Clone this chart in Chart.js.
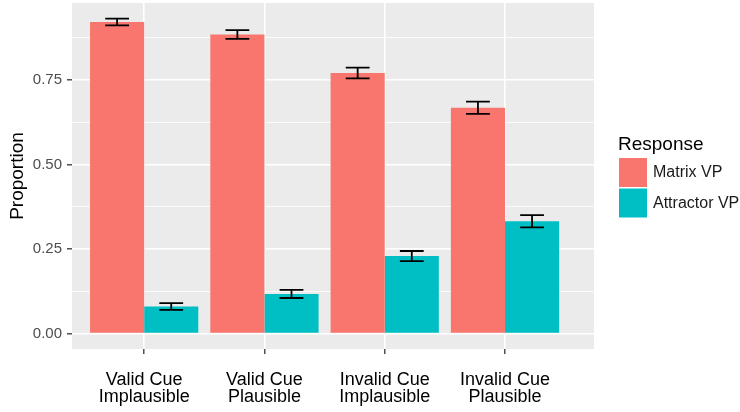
<!DOCTYPE html>
<html>
<head>
<meta charset="utf-8">
<script src="https://cdn.jsdelivr.net/npm/chart.js@4"></script>
<style>
  body { margin: 0; background: #fff; }
</style>
</head>
<body>
<canvas id="chart" width="740" height="412"></canvas>
<script>
// Data
const categories = [
  ["Valid Cue", "Implausible"],
  ["Valid Cue", "Plausible"],
  ["Invalid Cue", "Implausible"],
  ["Invalid Cue", "Plausible"],
]
const seriesNames = ["Matrix VP", "Attractor VP"]
const matrixVP = [0.922, 0.885, 0.771, 0.668]
const matrixErr = [0.010, 0.013, 0.016, 0.018]
const attractorVP = [0.080, 0.117, 0.229, 0.332]
const attractorErr = [0.010, 0.012, 0.015, 0.018]
const yGrid = [0, 0.125, 0.25, 0.375, 0.5, 0.625, 0.75, 0.875]
const yLabels = [0, 0.25, 0.5, 0.75]

const colors = ["#F8766D", "#00BFC4"]
const errors = [matrixErr, attractorErr]
const FONT = "'Liberation Sans', Arial, sans-serif"

const isMajor = (v) => yLabels.some((l) => Math.abs(l - v) < 1e-9)

// panel background
const panelBg = {
  id: "panelBg",
  beforeDraw(chart) {
    const { ctx, chartArea: a } = chart
    ctx.save()
    ctx.fillStyle = "#EBEBEB"
    ctx.fillRect(a.left, a.top, a.right - a.left, a.bottom - a.top)
    ctx.restore()
  },
}

// error bars from the dataset's bar elements
const errorBars = {
  id: "errorBars",
  afterDatasetsDraw(chart) {
    const { ctx } = chart
    const y = chart.scales.y
    ctx.save()
    ctx.strokeStyle = "#000"
    ctx.lineWidth = 1.8
    chart.data.datasets.forEach((ds, di) => {
      const meta = chart.getDatasetMeta(di)
      meta.data.forEach((bar, i) => {
        const v = ds.data[i].y
        const e = errors[di][i]
        const top = y.getPixelForValue(v + e)
        const bot = y.getPixelForValue(v - e)
        const half = bar.width * 0.22
        ctx.beginPath()
        ctx.moveTo(bar.x, top)
        ctx.lineTo(bar.x, bot)
        ctx.moveTo(bar.x - half, top)
        ctx.lineTo(bar.x + half, top)
        ctx.moveTo(bar.x - half, bot)
        ctx.lineTo(bar.x + half, bot)
        ctx.stroke()
      })
    })
    ctx.restore()
  },
}

// ggplot style legend at the right
const sideLegend = {
  id: "sideLegend",
  afterDraw(chart) {
    const { ctx } = chart
    ctx.save()
    ctx.fillStyle = "#000"
    ctx.font = "19px " + FONT
    ctx.textBaseline = "alphabetic"
    ctx.fillText("Response", 618, 150)
    ctx.font = "16px " + FONT
    ctx.textBaseline = "middle"
    seriesNames.forEach((name, i) => {
      const top = 158 + i * 30.5
      ctx.fillStyle = colors[i]
      ctx.fillRect(619, top, 28, 29)
      ctx.fillStyle = "#1a1a1a"
      ctx.fillText(name, 653, top + 15)
    })
    ctx.restore()
  },
}

new Chart(document.getElementById("chart"), {
  type: "bar",
  data: {
    datasets: [matrixVP, attractorVP].map((vals, di) => ({
      label: seriesNames[di],
      data: vals.map((v, i) => ({ x: i + 1, y: v })),
      backgroundColor: colors[di],
      borderWidth: 0,
      categoryPercentage: 0.9,
      barPercentage: 1,
    })),
  },
  options: {
    responsive: false,
    animation: false,
    layout: { padding: { top: 3, right: 146, left: 0, bottom: 0 } },
    plugins: {
      legend: { display: false },
      tooltip: { enabled: false },
    },
    scales: {
      x: {
        type: "linear",
        offset: false,
        min: 0.4,
        max: 4.74,
        afterBuildTicks: (scale) => {
          scale.ticks = categories.map((c, i) => ({ value: i + 1 }))
        },
        afterFit: (scale) => {
          scale.height = 63
        },
        ticks: {
          autoSkip: false,
          maxRotation: 0,
          padding: 17,
          color: "#000",
          font: { family: FONT, size: 18, lineHeight: 0.95 },
          callback: (v) => categories[Math.round(v) - 1] || "",
        },
        grid: {
          offset: false,
          color: "#FFFFFF",
          lineWidth: 1.6,
          tickColor: "#333333",
          tickLength: 5,
          tickWidth: 1.3,
        },
        border: { display: false },
      },
      y: {
        min: -0.046,
        max: 0.978,
        afterBuildTicks: (scale) => {
          scale.ticks = yGrid.map((v) => ({ value: v }))
        },
        afterFit: (scale) => {
          scale.width = 72
          scale.paddingTop = 0
          scale.paddingBottom = 0
        },
        ticks: {
          autoSkip: false,
          padding: 5,
          color: "#4D4D4D",
          font: { family: FONT, size: 15 },
          callback: (v) => (isMajor(v) ? v.toFixed(2) : ""),
        },
        grid: {
          color: "#FFFFFF",
          lineWidth: (ctx) => (ctx.tick && isMajor(ctx.tick.value) ? 1.6 : 0.8),
          tickColor: (ctx) => (ctx.tick && isMajor(ctx.tick.value) ? "#333333" : "rgba(0,0,0,0)"),
          tickLength: 5,
          tickWidth: 1.3,
        },
        border: { display: false },
        title: {
          display: true,
          text: "Proportion",
          color: "#000",
          padding: { top: 6, bottom: 0 },
          font: { family: FONT, size: 19 },
        },
      },
    },
  },
  plugins: [panelBg, errorBars, sideLegend],
})
</script>
</body>
</html>
